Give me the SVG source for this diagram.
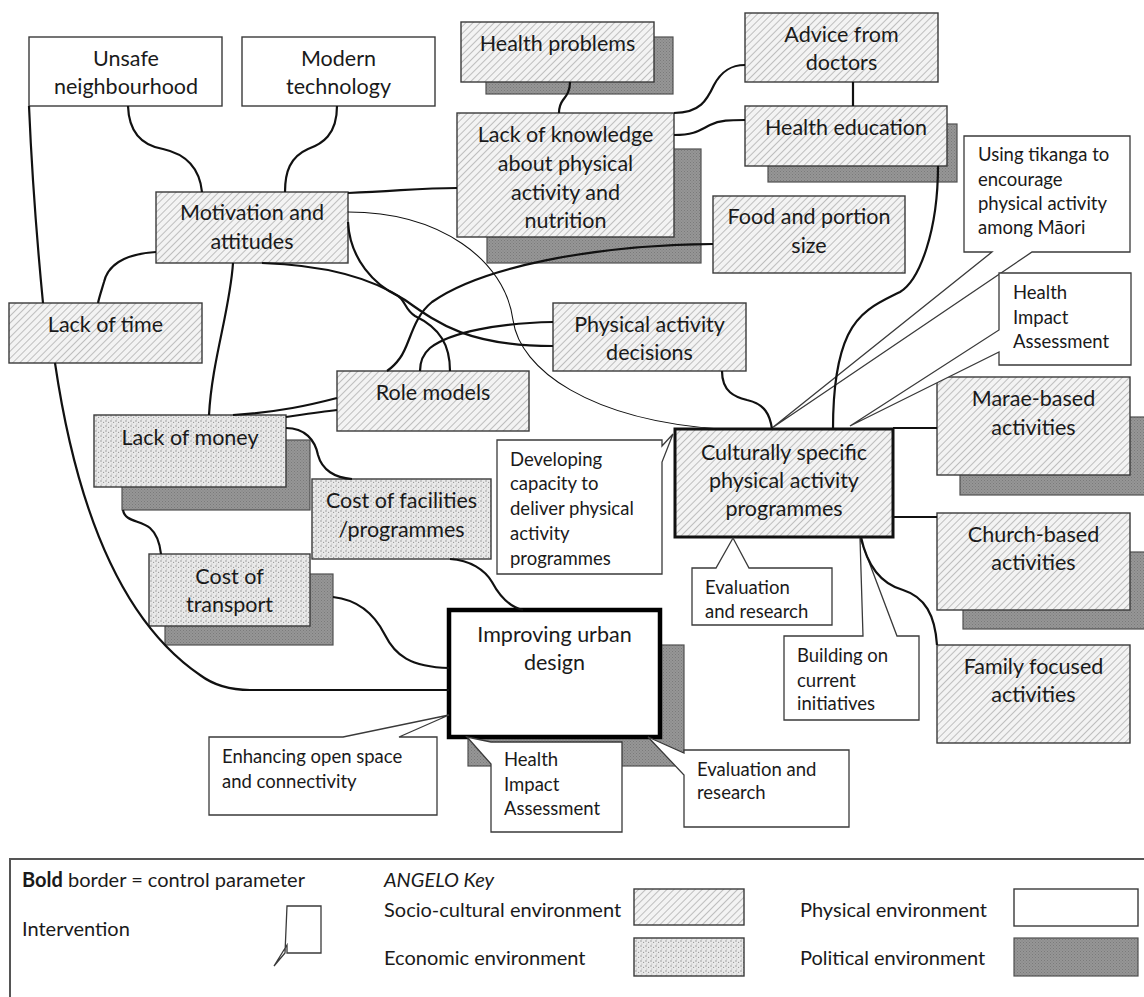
<svg xmlns="http://www.w3.org/2000/svg" width="1144" height="997" viewBox="0 0 1144 997">
<defs>
<pattern id="hatch" width="5" height="5" patternUnits="userSpaceOnUse" patternTransform="rotate(45)">
<rect width="5" height="5" fill="#f3f3f3"/>
<line x1="0" y1="0" x2="0" y2="5" stroke="#a8a8a8" stroke-width="1.4"/>
</pattern>
<pattern id="dots" width="5" height="5" patternUnits="userSpaceOnUse">
<rect width="5" height="5" fill="#e9e9e9"/>
<circle cx="1" cy="1" r="0.7" fill="#8a8a8a"/>
<circle cx="3.6" cy="2.4" r="0.6" fill="#9a9a9a"/>
<circle cx="1.8" cy="4.1" r="0.5" fill="#a5a5a5"/>
</pattern>
<pattern id="pol" width="3" height="3" patternUnits="userSpaceOnUse">
<rect width="3" height="3" fill="#969696"/>
<rect width="1" height="1" fill="#7a7a7a"/>
<rect x="1.5" y="1.5" width="1" height="1" fill="#808080"/>
</pattern>
<style>
.b{stroke:#3a3a3a;stroke-width:1.4}
.hat{fill:url(#hatch)}
.dot{fill:url(#dots)}
.wh{fill:#ffffff}
.sh{fill:url(#pol);stroke:#505050;stroke-width:1.2}
.ctl{stroke:#111;stroke-width:3}
.ctl2{stroke:#000;stroke-width:4.5}
.co{fill:#fff;stroke:#3a3a3a;stroke-width:1.3;stroke-linejoin:miter}
text{font-family:Lato,"Open Sans","Liberation Sans",sans-serif;fill:#1a1a1a}
.t{font-size:21.5px;text-anchor:middle}
.c{font-size:18.5px}
.l{font-size:20px}
.cn{fill:none;stroke:#111;stroke-width:2.2}
.thin{fill:none;stroke:#111;stroke-width:1.1}
</style>
</defs>
<rect width="1144" height="997" fill="#fff"/>

<g id="unsafe-neighbourhood"><rect x="29" y="37" width="193" height="69" class="wh b"/><text class="t" x="126" y="66">Unsafe</text><text class="t" x="126" y="94">neighbourhood</text></g>
<g id="modern-technology"><rect x="242" y="37" width="193" height="69" class="wh b"/><text class="t" x="338.5" y="66">Modern</text><text class="t" x="338.5" y="94">technology</text></g>
<g id="health-problems"><rect x="486" y="37" width="187" height="57" class="sh"/><rect x="461" y="22" width="193" height="60" class="hat b"/><text class="t" x="557.5" y="51">Health problems</text></g>
<g id="advice-from-doctors"><rect x="745" y="13" width="193" height="69" class="hat b"/><text class="t" x="841.5" y="42">Advice from</text><text class="t" x="841.5" y="70">doctors</text></g>
<g id="health-education"><rect x="768" y="124" width="189" height="58" class="sh"/><rect x="745" y="106" width="202" height="60" class="hat b"/><text class="t" x="846" y="135">Health education</text></g>
<g id="lack-of-knowledge"><rect x="487" y="149" width="214" height="114" class="sh"/><rect x="457" y="113" width="217" height="124" class="hat b"/><text class="t" x="565.5" y="142">Lack of knowledge</text><text class="t" x="565.5" y="171">about physical</text><text class="t" x="565.5" y="200">activity and</text><text class="t" x="565.5" y="228">nutrition</text></g>
<g id="motivation-and-attitudes"><rect x="156" y="192" width="192" height="71" class="hat b"/><text class="t" x="252" y="220">Motivation and</text><text class="t" x="252" y="249">attitudes</text></g>
<g id="food-and-portion-size"><rect x="713" y="196" width="192" height="77" class="hat b"/><text class="t" x="809" y="224">Food and portion</text><text class="t" x="809" y="253">size</text></g>
<g id="lack-of-time"><rect x="9" y="303" width="193" height="60" class="hat b"/><text class="t" x="105.5" y="332">Lack of time</text></g>
<g id="physical-activity-decisions"><rect x="553" y="303" width="193" height="68" class="hat b"/><text class="t" x="649.5" y="332">Physical activity</text><text class="t" x="649.5" y="360">decisions</text></g>
<g id="role-models"><rect x="337" y="371" width="192" height="60" class="hat b"/><text class="t" x="433" y="400">Role models</text></g>
<g id="lack-of-money"><rect x="122" y="440" width="188" height="70" class="sh"/><rect x="94" y="415" width="192" height="72" class="dot b"/><text class="t" x="190" y="445">Lack of money</text></g>
<g id="cost-of-facilities"><rect x="312" y="479" width="179" height="80" class="dot b"/><text class="t" x="401.5" y="508">Cost of facilities</text><text class="t" x="401.5" y="537">/programmes</text></g>
<g id="cost-of-transport"><rect x="165" y="574" width="168" height="71" class="sh"/><rect x="149" y="554" width="161" height="72" class="dot b"/><text class="t" x="229.5" y="584">Cost of</text><text class="t" x="229.5" y="612">transport</text></g>
<g id="culturally-specific-programmes"><rect x="675" y="429" width="218" height="108" class="hat ctl"/><text class="t" x="784" y="460">Culturally specific</text><text class="t" x="784" y="488">physical activity</text><text class="t" x="784" y="516">programmes</text></g>
<g id="marae-based-activities"><rect x="960" y="417" width="190" height="78" class="sh"/><rect x="937" y="377" width="193" height="98" class="hat b"/><text class="t" x="1033.5" y="406">Marae-based</text><text class="t" x="1033.5" y="435">activities</text></g>
<g id="church-based-activities"><rect x="963" y="552" width="190" height="77" class="sh"/><rect x="937" y="513" width="193" height="97" class="hat b"/><text class="t" x="1033.5" y="542">Church-based</text><text class="t" x="1033.5" y="570">activities</text></g>
<g id="family-focused-activities"><rect x="937" y="645" width="193" height="98" class="hat b"/><text class="t" x="1033.5" y="674">Family focused</text><text class="t" x="1033.5" y="702">activities</text></g>
<g id="improving-urban-design"><rect x="468" y="645" width="216" height="121" class="sh"/><rect x="449" y="610" width="211" height="127" class="wh ctl2"/><text class="t" x="554.5" y="642">Improving urban</text><text class="t" x="554.5" y="670">design</text></g>

<g id="intervention-tikanga"><path class="co" d="M964,136 H1130 V252 H1032 L772,428 L992,252 H964 Z"/><text class="c" x="978" y="161">Using tikanga to</text><text class="c" x="978" y="186">encourage</text><text class="c" x="978" y="210">physical activity</text><text class="c" x="978" y="234">among Māori</text></g>
<g id="intervention-hia-programmes"><path class="co" d="M999,273 H1131 V365 H999 V352 L850,426 L999,330 Z"/><text class="c" x="1013" y="299">Health</text><text class="c" x="1013" y="324">Impact</text><text class="c" x="1013" y="348">Assessment</text></g>
<g id="intervention-capacity"><path class="co" d="M497,440 H662 V446 L673,434 L662,462 V574 H497 Z"/><text class="c" x="510" y="466">Developing</text><text class="c" x="510" y="490">capacity to</text><text class="c" x="510" y="515">deliver physical</text><text class="c" x="510" y="540">activity</text><text class="c" x="510" y="565">programmes</text></g>
<g id="intervention-evaluation-programmes"><path class="co" d="M692,568 H716 L733,538 L749,568 H832 V625 H692 Z"/><text class="c" x="705" y="594">Evaluation</text><text class="c" x="705" y="618">and research</text></g>
<g id="intervention-building"><path class="co" d="M784,636 H863 L860,538 L897,636 H919 V720 H784 Z"/><text class="c" x="797" y="662">Building on</text><text class="c" x="797" y="687">current</text><text class="c" x="797" y="710">initiatives</text></g>
<g id="intervention-open-space"><path class="co" d="M209,737 H343 L449,715 L399,737 H437 V815 H209 Z"/><text class="c" x="222" y="763">Enhancing open space</text><text class="c" x="222" y="788">and connectivity</text></g>
<g id="intervention-hia-urban"><path class="co" d="M467,737 L491,742 H622 V832 H491 V764 Z"/><text class="c" x="504" y="766">Health</text><text class="c" x="504" y="791">Impact</text><text class="c" x="504" y="815">Assessment</text></g>
<g id="intervention-evaluation-urban"><path class="co" d="M684,750 H849 V827 H684 V775 L648,737 L684,753 Z"/><text class="c" x="697" y="776">Evaluation and</text><text class="c" x="697" y="799">research</text></g>

<g id="connectors">
<path class="cn" d="M29,106 Q33,200 43,303"/>
<path class="cn" d="M128,106 C129,135 145,146 163,149 C190,155 200,172 202,192"/>
<path class="cn" d="M337,106 C337,135 322,144 308,149 C290,157 285,172 285,192"/>
<path class="cn" d="M156,252 C125,254 108,265 104,282 C101,292 99,298 98,303"/>
<path class="cn" d="M348,193 C400,191 420,188 457,188"/>
<path class="thin" d="M348,212 C440,212 505,260 513,320 C520,370 590,420 720,429"/>
<path class="cn" d="M348,222 C350,260 375,285 398,296 C405,300 405,310 415,316 C440,328 450,345 450,371"/>
<path class="cn" d="M262,263 C325,265 372,278 405,300 C440,325 470,346 553,346"/>
<path class="cn" d="M233,263 C230,310 212,360 209,415"/>
<path class="cn" d="M713,244 C590,245 480,268 432,302 C412,318 410,345 400,358 C395,365 390,369 387,371"/>
<path class="cn" d="M553,322 C500,323 450,332 430,348 C422,355 420,362 420,371"/>
<path class="cn" d="M233,415 C280,412 310,405 337,398"/>
<path class="cn" d="M286,417 C300,415 320,412 337,410"/>
<path class="cn" d="M123,510 C125,522 140,520 150,528 C158,535 160,545 161,554"/>
<path class="cn" d="M286,428 C305,428 315,440 318,455 C322,470 335,478 352,479"/>
<path class="cn" d="M450,559 C470,560 485,570 492,582 C500,597 510,607 523,610"/>
<path class="cn" d="M333,597 C360,600 375,615 385,635 C395,655 410,667 449,668"/>
<path class="cn" d="M55,363 Q90,600 200,675 Q220,690 250,690 L449,690"/>
<path class="cn" d="M570,82 C570,92 566,96 563,100 C560,104 559,108 559,113"/>
<path class="cn" d="M674,113 C700,113 707,100 714,85 C722,70 732,65 745,65"/>
<path class="cn" d="M674,135 C695,135 700,130 710,125 C720,120 730,120 745,120"/>
<path class="cn" d="M853,82 V106"/>
<path class="cn" d="M722,371 C722,392 735,397 747,400 C765,404 770,415 772,429"/>
<path class="cn" d="M938,166 C938,230 920,280 900,292 C880,302 860,310 848,335 C836,360 833,395 833,429"/>
<path class="cn" d="M893,428 H937"/>
<path class="cn" d="M893,517 H937"/>
<path class="cn" d="M861,537 C868,570 885,585 903,590 C925,597 935,615 937,645"/>
</g>

<g id="legend">
<path d="M10,997 V859 H1144" fill="none" stroke="#555" stroke-width="2"/>
<text class="l" x="22" y="887"><tspan font-weight="bold">Bold</tspan> border = control parameter</text>
<text class="l" x="384" y="887" font-style="italic">ANGELO Key</text>
<text class="l" x="384" y="917">Socio-cultural environment</text>
<rect x="634" y="889" width="110" height="36" class="hat b"/>
<text class="l" x="800" y="917">Physical environment</text>
<rect x="1014" y="889" width="124" height="37" class="wh b"/>
<text class="l" x="22" y="936">Intervention</text>
<path class="co" d="M287,906 H321 V953 H287 V945 L274,966 L285,953 Z"/>
<text class="l" x="384" y="965">Economic environment</text>
<rect x="634" y="938" width="110" height="38" class="dot b"/>
<text class="l" x="800" y="965">Political environment</text>
<rect x="1014" y="938" width="124" height="38" class="sh"/>
</g>
</svg>
